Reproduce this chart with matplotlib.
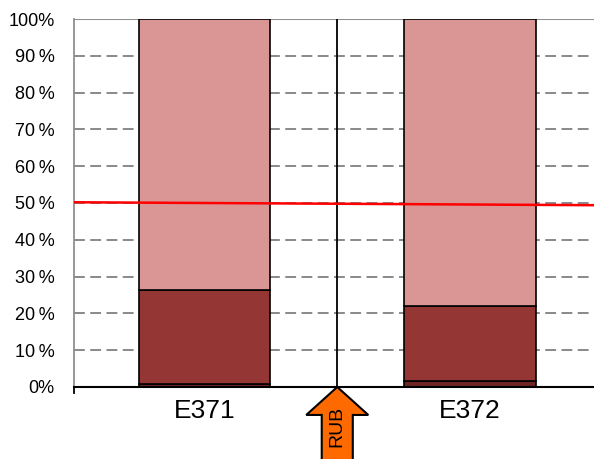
import matplotlib.pyplot as plt
from matplotlib.patches import Polygon

plt.rcParams['font.family'] = ['Liberation Sans', 'DejaVu Sans']

# stacked shares (percent) per sample
samples = ['E371', 'E372']
x_pos = [0, 2]
base_share = [0.7, 1.7]
mid_share = [25.6, 20.2]
top_share = [73.7, 78.1]
colors = ['#6e2523', '#943634', '#d99694']

# divider between the two samples and the 50 % reference line
rub_x = 1
ref_line = [50.2, 49.4]

y_ticks = list(range(0, 101, 10))
y_labels = ['0%'] + ['%d\u2009%%' % v for v in y_ticks[1:-1]] + ['100%']

fig = plt.figure(figsize=(5.94, 4.59), dpi=100)
ax = fig.add_axes([0.1246, 0.1569, 0.8754, 0.8017])

for y in y_ticks[1:-1]:
    ax.axhline(y, color='#808080', lw=1.3, ls=(0, (6, 3)), zorder=1)
ax.axhline(100, color='#909090', lw=1.5, zorder=1)

bottom = [0, 0]
for share, c in zip([base_share, mid_share, top_share], colors):
    ax.bar(x_pos, share, width=0.987, bottom=bottom, color=c,
           edgecolor='black', linewidth=1.2, zorder=2)
    bottom = [b + s for b, s in zip(bottom, share)]

ax.plot([rub_x, rub_x], [0, 100], color='black', lw=1.3, zorder=3)
ax.plot([-0.983, 2.934], ref_line, color='#ff0000', lw=1.8, zorder=4)

ax.set_xlim(-0.983, 2.934)
ax.set_ylim(0, 100)
ax.set_xticks(x_pos)
ax.set_xticklabels(samples, fontsize=19)
ax.set_yticks(y_ticks)
ax.set_yticklabels(y_labels, fontsize=13)
ax.tick_params(axis='x', length=0, pad=9)
ax.tick_params(axis='y', length=0, pad=14)
ax.spines['top'].set_visible(False)
ax.spines['right'].set_visible(False)
ax.spines['left'].set_color('#909090')
ax.spines['left'].set_linewidth(1.3)
ax.spines['bottom'].set_color('black')
ax.spines['bottom'].set_linewidth(1.5)
ax.spines['bottom'].set_zorder(5)
ax.plot([-0.983, -0.983], [0, -1.5], color='black', lw=1.3, clip_on=False)

# orange RUB arrow pointing up at the divider
head_w, shaft_w = 0.2335, 0.117
arrow = Polygon([
    (rub_x, 0), (rub_x + head_w, -7.6), (rub_x + shaft_w, -7.6),
    (rub_x + shaft_w, -25), (rub_x - shaft_w, -25), (rub_x - shaft_w, -7.6),
    (rub_x - head_w, -7.6)], closed=True, facecolor='#ff6a00',
    edgecolor='black', lw=1.5, clip_on=False, zorder=6)
ax.add_patch(arrow)
ax.text(rub_x, -10.6, 'RUB', rotation=90, ha='center', va='center',
        fontsize=14, clip_on=False, zorder=7)

fig.savefig('out.png', dpi=100)
